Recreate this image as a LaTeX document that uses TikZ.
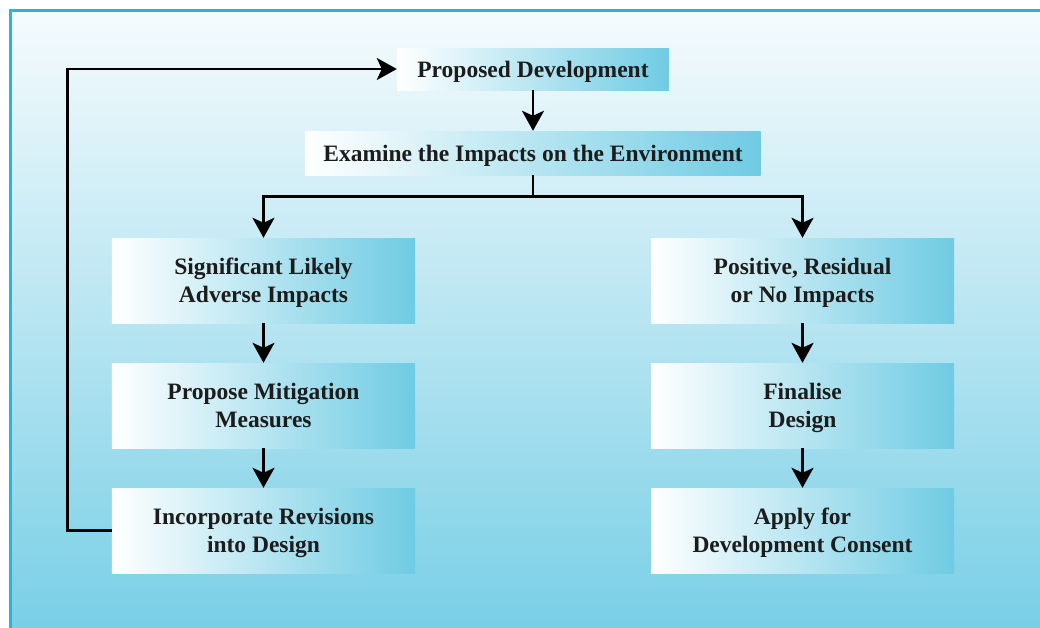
\documentclass[tikz,border=0pt]{standalone}
\usepackage{fontspec}
\setmainfont{Liberation Serif}
\usetikzlibrary{matrix}
\usetikzlibrary{arrows.meta}

\definecolor{paneltop}{HTML}{F6FBFD}
\definecolor{panelbot}{HTML}{79CFE6}
\definecolor{panelline}{HTML}{2AB4D6}
\definecolor{boxcyan}{HTML}{6FCBE3}
\definecolor{inkgray}{HTML}{1C1C1C}

\tikzset{
  stagebox/.style={left color=white, right color=boxcyan, align=center,
    text=inkgray, font=\bfseries\fontsize{23.5}{28}\selectfont, text depth=0pt,
    minimum width=303pt, minimum height=85pt, inner sep=0pt},
}

\begin{document}
\begin{tikzpicture}[x=1pt, y=-1pt, >={Stealth[length=20pt,width=22pt,inset=5pt]}]
    \useasboundingbox (0,0) rectangle (1040,628);
    \shade[top color=paneltop, bottom color=panelbot] (10,11) rectangle (1040,628);
    \draw[panelline, line width=3pt] (10,628) -- (10,11) -- (1040,11);
    \matrix[matrix anchor=pd.center,
    nodes={stagebox, anchor=center},
    row sep={125pt,between origins}, column sep={269.5pt,between origins}]
    at (533,69)
    {
      & \node[minimum width=272pt, minimum height=42pt] (pd) {Proposed Development}; & \\[-41pt]
      & \node[minimum width=455pt, minimum height=44pt] (ex) {Examine the Impacts on the Environment}; & \\[2.5pt]
      \node (sig) {Significant Likely\\Adverse Impacts}; & & \node (pos) {Positive, Residual\\or No Impacts}; \\
      \node (mit) {Propose Mitigation\\Measures}; & & \node (fin) {Finalise\\Design}; \\
      \node (inc) {Incorporate Revisions\\into Design}; & & \node (app) {Apply for\\Development Consent}; \\
    };
    \draw[->,line width=2.8pt,black]
      (pd) edge (ex)
      (sig) edge (mit)
      (mit) edge (inc)
      (pos) edge (fin)
      (fin) edge (app);
    \draw[->,line width=2.8pt,black] (ex.south) -- ++(0,21) -| (sig.north);
    \draw[->,line width=2.8pt,black] (ex.south) -- ++(0,21) -| (pos.north);
    \draw[->,line width=2.8pt,black] (inc.west) -- ++(-44,0) |- (pd.west);
\end{tikzpicture}
\end{document}
